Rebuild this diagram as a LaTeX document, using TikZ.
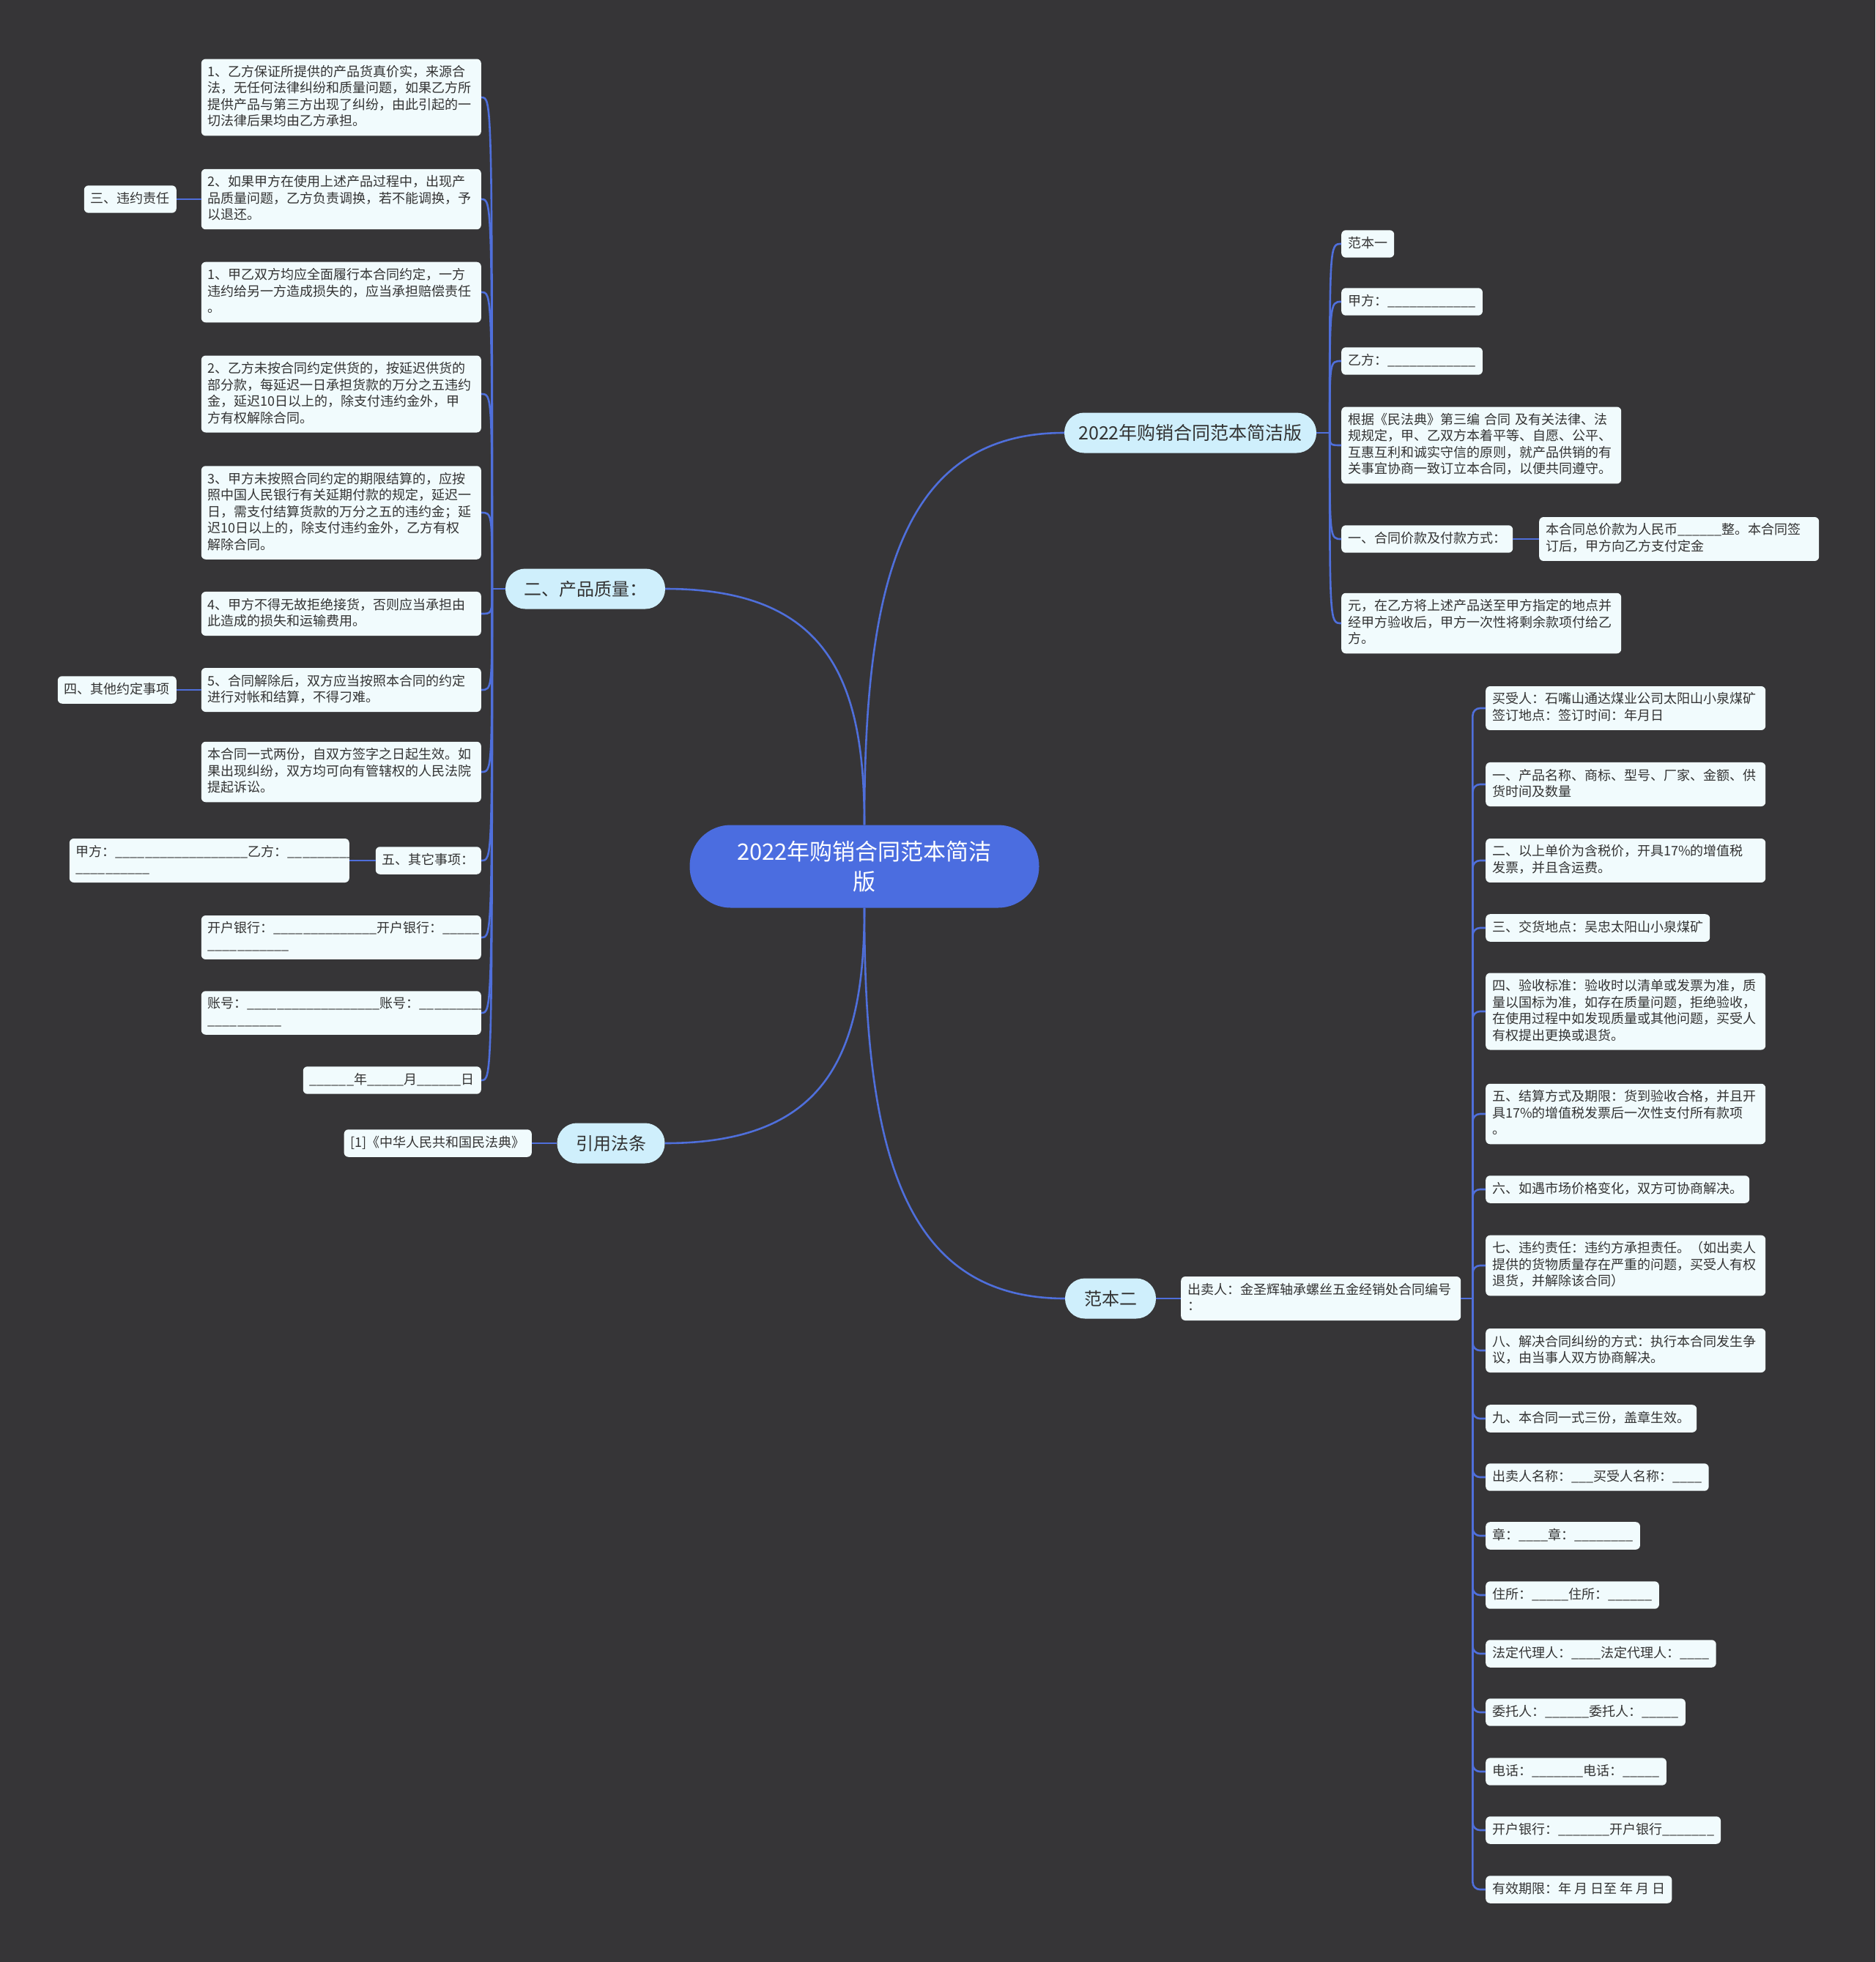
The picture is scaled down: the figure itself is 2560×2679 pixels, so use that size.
\documentclass[tikz,border=0pt]{standalone}
\usepackage{fontspec}
\setmainfont{Noto Sans CJK SC}
\usetikzlibrary{calc}
\definecolor{mapbg}{HTML}{363537}
\definecolor{maplink}{HTML}{4F6FDB}
\definecolor{maproot}{HTML}{4B6DE0}
\definecolor{mappill}{HTML}{CFEFFC}
\definecolor{mapleaf}{HTML}{F1FBFD}
\definecolor{maptext}{HTML}{333333}
\ExplSyntaxOn
\NewDocumentCommand\blanks{m}{\prg_replicate:nn{#1}{\_}}
\ExplSyntaxOff
\newcommand\lnstrut{\rule[-4.75pt]{0pt}{17.75pt}}

\begin{document}
\begin{tikzpicture}[
x=1pt, y=-1pt,
root/.style={rectangle, rounded corners=56pt, fill=maproot, text=white, align=center, minimum width=477pt, minimum height=113pt, font=\fontsize{31}{41}\selectfont},
pill/.style={rectangle, rounded corners=27pt, fill=mappill, text=maptext, minimum height=55pt, inner xsep=0pt, font=\fontsize{24}{29}\selectfont},
leaf/.style={rectangle, rounded corners=6pt, fill=mapleaf, text=maptext, align=left, inner xsep=9pt, inner ysep=8.75pt, font=\fontsize{18}{22.5}\selectfont, execute at begin node=\lnstrut, execute at end node=\lnstrut},
wide/.style={leaf, text width=364pt},
link/.style={draw=maplink, line width=2.6pt}
]
\fill[mapbg] (0,0) rectangle (2560,2679);
\useasboundingbox (0,0) rectangle (2560,2679);

\node[root] (main) at (1180,1183) {2022年购销合同范本简洁\\版};

% first level
\node[pill, minimum width=344pt, font=\fontsize{25}{30}\selectfont] (simple) at (1625,591) {2022年购销合同范本简洁版};
\node[pill, minimum width=218pt] (quality) at (799,804) {二、产品质量：};
\node[pill, minimum width=147pt] (laws) at (834,1561) {引用法条};
\node[pill, minimum width=124pt] (model2) at (1516,1773) {范本二};

% left column
\node[wide, anchor=east] (qtrue) at (657,133) {1、乙方保证所提供的产品货真价实，来源合\\法，无任何法律纠纷和质量问题，如果乙方所\\提供产品与第三方出现了纠纷，由此引起的一\\切法律后果均由乙方承担。};
\node[wide, anchor=east] (qswap) at (657,272) {2、如果甲方在使用上述产品过程中，出现产\\品质量问题，乙方负责调换，若不能调换，予\\以退还。};
\node[wide, anchor=east] (qbreach) at (657,399) {1、甲乙双方均应全面履行本合同约定，一方\\违约给另一方造成损失的，应当承担赔偿责任\\。};
\node[wide, anchor=east] (qlate) at (657,538) {2、乙方未按合同约定供货的，按延迟供货的\\部分款，每延迟一日承担货款的万分之五违约\\金，延迟10日以上的，除支付违约金外，甲\\方有权解除合同。};
\node[wide, anchor=east] (qpay) at (657,700) {3、甲方未按照合同约定的期限结算的，应按\\照中国人民银行有关延期付款的规定，延迟一\\日，需支付结算货款的万分之五的违约金；延\\迟10日以上的，除支付违约金外，乙方有权\\解除合同。};
\node[wide, anchor=east] (qrefuse) at (657,838) {4、甲方不得无故拒绝接货，否则应当承担由\\此造成的损失和运输费用。};
\node[wide, anchor=east] (qsettle) at (657,942) {5、合同解除后，双方应当按照本合同的约定\\进行对帐和结算，不得刁难。};
\node[wide, anchor=east] (qcopies) at (657,1054) {本合同一式两份，自双方签字之日起生效。如\\果出现纠纷，双方均可向有管辖权的人民法院\\提起诉讼。};
\node[leaf, anchor=east] (qother) at (657,1175) {五、其它事项：};
\node[wide, anchor=east] (qbank) at (657,1280) {开户银行：\blanks{14}开户银行：\blanks{5}\\\blanks{11}};
\node[wide, anchor=east] (qacct) at (657,1383) {账号：\blanks{18}账号：\blanks{9}\\\blanks{10}};
\node[leaf, anchor=east] (qdate) at (657,1475) {\blanks{6}年\blanks{5}月\blanks{6}日};

\node[leaf, anchor=east] (liab) at (241,272) {三、违约责任};
\node[leaf, anchor=east] (misc) at (241,942) {四、其他约定事项};
\node[wide, anchor=east] (parties) at (477,1175) {甲方：\blanks{18}乙方：\blanks{9}\\\blanks{10}};
\node[leaf, anchor=east] (civil) at (726,1561) {[1]《中华人民共和国民法典》};

% sample one
\node[leaf, anchor=west] (sample1) at (1831,333) {范本一};
\node[leaf, anchor=west] (partya) at (1831,412) {甲方：\blanks{12}};
\node[leaf, anchor=west] (partyb) at (1831,493) {乙方：\blanks{12}};
\node[wide, anchor=west] (basis) at (1831,608) {根据《民法典》第三编~合同~及有关法律、法\\规规定，甲、乙双方本着平等、自愿、公平、\\互惠互利和诚实守信的原则，就产品供销的有\\关事宜协商一致订立本合同，以便共同遵守。};
\node[leaf, anchor=west] (price) at (1831,736) {一、合同价款及付款方式：};
\node[wide, anchor=west] (pricetext) at (2101,736) {本合同总价款为人民币\blanks{6}整。本合同签\\订后，甲方向乙方支付定金};
\node[wide, anchor=west] (balance) at (1831,851) {元，在乙方将上述产品送至甲方指定的地点并\\经甲方验收后，甲方一次性将剩余款项付给乙\\方。};

% sample two
\node[wide, anchor=west] (seller) at (1612,1773) {出卖人：金圣辉轴承螺丝五金经销处合同编号\\：};
\node[wide, anchor=west] (buyer) at (2028,967) {买受人：石嘴山通达煤业公司太阳山小泉煤矿\\签订地点：签订时间：年月日};
\node[wide, anchor=west] (goods) at (2028,1071) {一、产品名称、商标、型号、厂家、金额、供\\货时间及数量};
\node[wide, anchor=west] (tax) at (2028,1175) {二、以上单价为含税价，开具17\%的增值税\\发票，并且含运费。};
\node[leaf, anchor=west] (place) at (2028,1267) {三、交货地点：吴忠太阳山小泉煤矿};
\node[wide, anchor=west] (check) at (2028,1381) {四、验收标准：验收时以清单或发票为准，质\\量以国标为准，如存在质量问题，拒绝验收，\\在使用过程中如发现质量或其他问题，买受人\\有权提出更换或退货。};
\node[wide, anchor=west] (settle) at (2028,1521) {五、结算方式及期限：货到验收合格，并且开\\具17\%的增值税发票后一次性支付所有款项\\。};
\node[leaf, anchor=west] (market) at (2028,1624) {六、如遇市场价格变化，双方可协商解决。};
\node[wide, anchor=west] (duty) at (2028,1728) {七、违约责任：违约方承担责任。（如出卖人\\提供的货物质量存在严重的问题，买受人有权\\退货，并解除该合同）};
\node[wide, anchor=west] (dispute) at (2028,1844) {八、解决合同纠纷的方式：执行本合同发生争\\议，由当事人双方协商解决。};
\node[leaf, anchor=west] (three) at (2028,1937) {九、本合同一式三份，盖章生效。};
\node[leaf, anchor=west] (names) at (2028,2017) {出卖人名称：\blanks{3}买受人名称：\blanks{4}};
\node[leaf, anchor=west] (seal) at (2028,2097) {章：\blanks{4}章：\blanks{8}};
\node[leaf, anchor=west] (home) at (2028,2178) {住所：\blanks{5}住所：\blanks{6}};
\node[leaf, anchor=west] (agent) at (2028,2258) {法定代理人：\blanks{4}法定代理人：\blanks{4}};
\node[leaf, anchor=west] (proxy) at (2028,2338) {委托人：\blanks{6}委托人：\blanks{5}};
\node[leaf, anchor=west] (phone) at (2028,2419) {电话：\blanks{7}电话：\blanks{5}};
\node[leaf, anchor=west] (bank) at (2028,2499) {开户银行：\blanks{7}开户银行\blanks{7}};
\node[leaf, anchor=west] (term) at (2028,2580) {有效期限：年 月 日至 年 月 日};

% curves from the centre
\draw[link] (main.north) .. controls +(0,-327) and +(-224,0) .. (simple.west);
\draw[link] (main.north) .. controls +(0,-196) and +(224,0) .. (quality.east);
\draw[link] (main.south) .. controls +(0,196) and +(224,0) .. (laws.east);
\draw[link] (main.south) .. controls +(0,326) and +(-224,0) .. (model2.west);

% left bracket
\draw[link] (quality.west) -- ++(-18,0) coordinate (qj);
\draw[link] (qj) .. controls (qj |- qtrue.east) .. (qtrue.east);
\draw[link] (qj) .. controls (qj |- qswap.east) .. (qswap.east);
\draw[link] (qj) .. controls (qj |- qbreach.east) .. (qbreach.east);
\draw[link] (qj) .. controls (qj |- qlate.east) .. (qlate.east);
\draw[link] (qj) .. controls (qj |- qpay.east) .. (qpay.east);
\draw[link] (qj) .. controls (qj |- qrefuse.east) .. (qrefuse.east);
\draw[link] (qj) .. controls (qj |- qsettle.east) .. (qsettle.east);
\draw[link] (qj) .. controls (qj |- qcopies.east) .. (qcopies.east);
\draw[link] (qj) .. controls (qj |- qother.east) .. (qother.east);
\draw[link] (qj) .. controls (qj |- qbank.east) .. (qbank.east);
\draw[link] (qj) .. controls (qj |- qacct.east) .. (qacct.east);
\draw[link] (qj) .. controls (qj |- qdate.east) .. (qdate.east);
\draw[link] (qswap.west) -- (liab.east);
\draw[link] (qsettle.west) -- (misc.east);
\draw[link] (qother.west) -- (parties.east);
\draw[link] (laws.west) -- (civil.east);

% right bracket, sample one
\draw[link] (simple.east) -- ++(18,0) coordinate (sj);
\draw[link] (sj) .. controls (sj |- sample1.west) .. (sample1.west);
\draw[link] (sj) .. controls (sj |- partya.west) .. (partya.west);
\draw[link] (sj) .. controls (sj |- partyb.west) .. (partyb.west);
\draw[link] (sj) .. controls (sj |- basis.west) .. (basis.west);
\draw[link] (sj) .. controls (sj |- price.west) .. (price.west);
\draw[link] (sj) .. controls (sj |- balance.west) .. (balance.west);
\draw[link] (price.east) -- (pricetext.west);

% right bracket, sample two
\draw[link] (model2.east) -- (seller.west);
\draw[link] (seller.east) -- ++(16,0) coordinate (bj);
\draw[link, rounded corners=10pt] (bj) |- (buyer.west);
\draw[link, rounded corners=10pt] (bj) |- (goods.west);
\draw[link, rounded corners=10pt] (bj) |- (tax.west);
\draw[link, rounded corners=10pt] (bj) |- (place.west);
\draw[link, rounded corners=10pt] (bj) |- (check.west);
\draw[link, rounded corners=10pt] (bj) |- (settle.west);
\draw[link, rounded corners=10pt] (bj) |- (market.west);
\draw[link, rounded corners=10pt] (bj) |- (duty.west);
\draw[link, rounded corners=10pt] (bj) |- (dispute.west);
\draw[link, rounded corners=10pt] (bj) |- (three.west);
\draw[link, rounded corners=10pt] (bj) |- (names.west);
\draw[link, rounded corners=10pt] (bj) |- (seal.west);
\draw[link, rounded corners=10pt] (bj) |- (home.west);
\draw[link, rounded corners=10pt] (bj) |- (agent.west);
\draw[link, rounded corners=10pt] (bj) |- (proxy.west);
\draw[link, rounded corners=10pt] (bj) |- (phone.west);
\draw[link, rounded corners=10pt] (bj) |- (bank.west);
\draw[link, rounded corners=10pt] (bj) |- (term.west);
\end{tikzpicture}
\end{document}
